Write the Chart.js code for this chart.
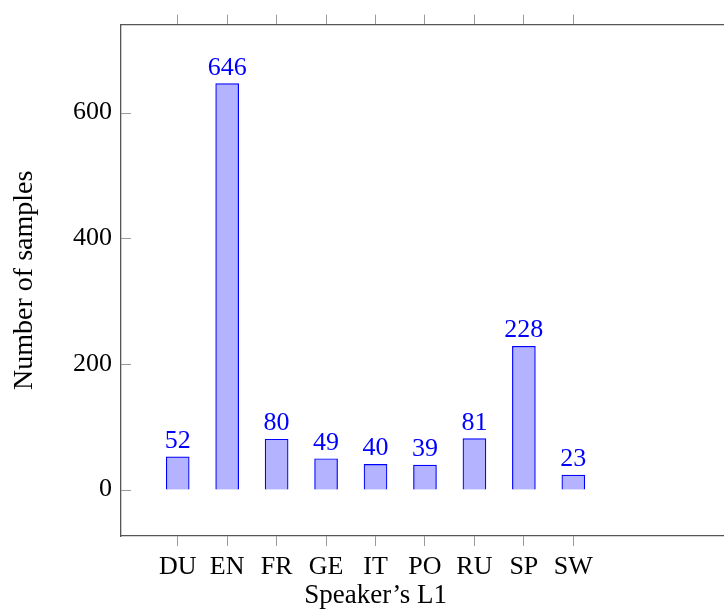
<!DOCTYPE html>
<html lang="en">
<head>
    <meta charset="UTF-8">
    <title>Samples per L1</title>
    <script src="https://cdn.jsdelivr.net/npm/chart.js"></script>
    <style>
        body { margin: 0; overflow: hidden; background: #fff; }
        .wrap { position: absolute; left: 0; top: 0; width: 760px; height: 610px; }
    </style>
</head>
<body>
    <div class="wrap"><canvas id="chart"></canvas></div>

    <script>
        // data
        const categories = ['DU', 'EN', 'FR', 'GE', 'IT', 'PO', 'RU', 'SP', 'SW'];
        const samples = [52, 646, 80, 49, 40, 39, 81, 228, 23];
        const yTicks = [0, 200, 400, 600];

        const FONT = "'Liberation Serif', 'DejaVu Serif', serif";
        const xMin = -1.147, xMax = 11.775;

        const catTicks = () => categories.map((c, i) => ({ value: i }));

        // value labels above bars + inner y ticks + x axis title
        const extras = {
            id: 'extras',
            afterDatasetsDraw(chart) {
                const ctx = chart.ctx;
                const meta = chart.getDatasetMeta(0);
                ctx.save();
                ctx.font = '26px ' + FONT;
                ctx.fillStyle = '#0000ff';
                ctx.textAlign = 'center';
                ctx.textBaseline = 'alphabetic';
                meta.data.forEach((bar, i) => {
                    ctx.fillText(String(samples[i]), bar.x, bar.y - 9);
                });
                ctx.restore();
            },
            afterDraw(chart) {
                const ctx = chart.ctx;
                const y = chart.scales.y;
                const x = chart.scales.x;
                const left = chart.chartArea.left;
                ctx.save();
                ctx.strokeStyle = '#9a9a9a';
                ctx.lineWidth = 1;
                yTicks.forEach(v => {
                    const py = Math.round(y.getPixelForValue(v)) + 0.5;
                    ctx.beginPath();
                    ctx.moveTo(left, py);
                    ctx.lineTo(left + 10, py);
                    ctx.stroke();
                });
                // x title centred under the categories
                const cx = (x.getPixelForValue(0) + x.getPixelForValue(categories.length - 1)) / 2;
                ctx.font = '27px ' + FONT;
                ctx.fillStyle = '#000';
                ctx.textAlign = 'center';
                ctx.textBaseline = 'alphabetic';
                ctx.fillText('Speaker\u2019s L1', cx, 603);
                ctx.restore();
            }
        };

        new Chart(document.getElementById('chart'), {
            type: 'bar',
            data: {
                datasets: [{
                    data: samples.map((v, i) => ({ x: i, y: v })),
                    backgroundColor: 'rgb(179,179,255)',
                    borderColor: '#0000ff',
                    borderWidth: 1.2,
                    barThickness: 23
                }]
            },
            plugins: [extras],
            options: {
                responsive: true,
                maintainAspectRatio: false,
                animation: false,
                layout: { padding: 0 },
                plugins: { legend: { display: false }, tooltip: { enabled: false } },
                scales: {
                    x: {
                        type: 'linear',
                        position: 'bottom',
                        offset: false,
                        min: xMin,
                        max: xMax,
                        afterBuildTicks: s => { s.ticks = catTicks(); },
                        afterFit: s => { s.height = 74; },
                        grid: { offset: false, drawOnChartArea: false, tickLength: 10, color: '#9a9a9a' },
                        border: { color: '#555', width: 1.3 },
                        ticks: {
                            padding: 6,
                            color: '#000',
                            font: { family: FONT, size: 26 },
                            maxRotation: 0,
                            callback: v => categories[v]
                        }
                    },
                    x2: {
                        type: 'linear',
                        position: 'top',
                        offset: false,
                        min: xMin,
                        max: xMax,
                        afterBuildTicks: s => { s.ticks = catTicks(); },
                        afterFit: s => { s.height = 23; },
                        grid: { offset: false, drawOnChartArea: false, tickLength: 10, color: '#9a9a9a' },
                        border: { color: '#555', width: 1.3 },
                        ticks: { display: false }
                    },
                    y: {
                        min: -74,
                        max: 740,
                        afterBuildTicks: s => { s.ticks = yTicks.map(v => ({ value: v })); },
                        afterFit: s => { s.width = 121; },
                        grid: { display: false, drawTicks: false },
                        border: { color: '#555', width: 1.3 },
                        ticks: {
                            padding: 9,
                            color: '#000',
                            font: { family: FONT, size: 26 }
                        },
                        title: {
                            display: true,
                            text: 'Number of samples',
                            color: '#000',
                            font: { family: FONT, size: 28 },
                            padding: { top: 8, bottom: 0 }
                        }
                    }
                }
            }
        });
    </script>
</body>
</html>
